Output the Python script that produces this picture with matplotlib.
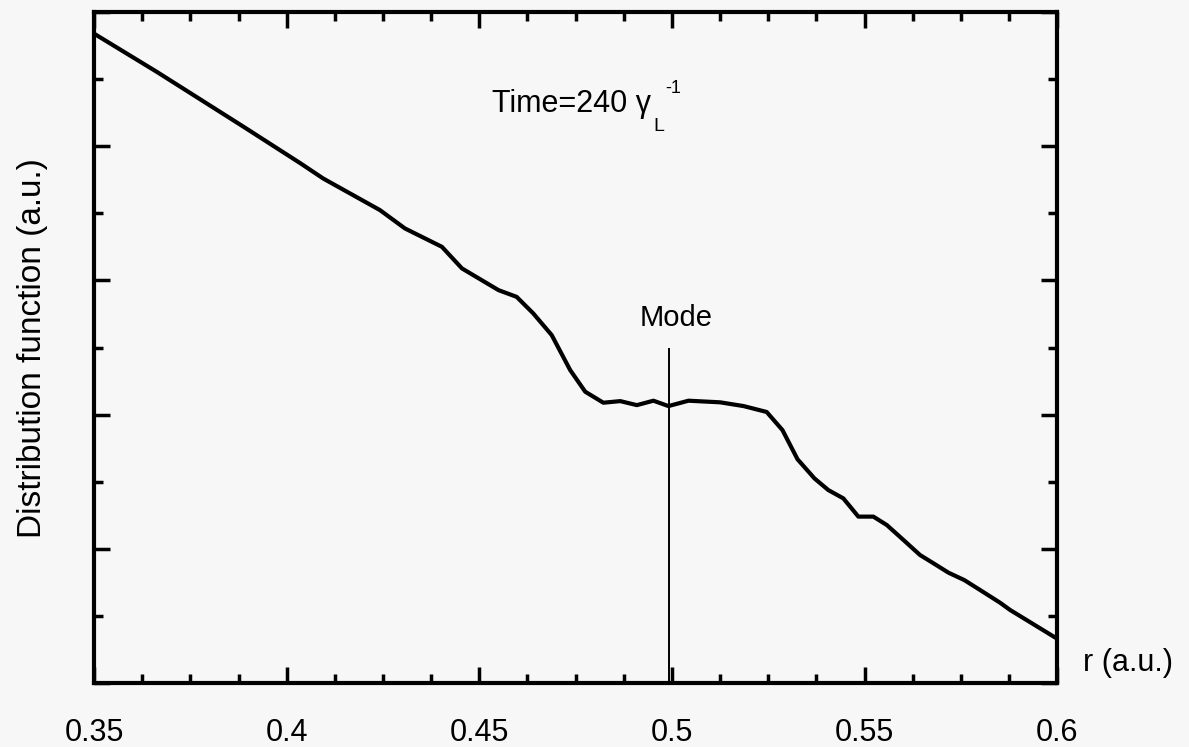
import numpy as np
import matplotlib
matplotlib.use("Agg")
import matplotlib.pyplot as plt
from matplotlib.ticker import MultipleLocator

plt.rcParams["font.family"] = ["Liberation Sans", "DejaVu Sans"]

# distribution function vs radius
r_vals = [0.350, 0.3663, 0.3888, 0.4035, 0.4095, 0.4242, 0.4307, 0.4403,
          0.4455, 0.4550, 0.4597, 0.4640, 0.4688, 0.4736, 0.4775, 0.4822,
          0.4866, 0.4909, 0.4952, 0.4991, 0.5043, 0.5125, 0.5186, 0.5246,
          0.5287, 0.5326, 0.5370, 0.5406, 0.5445, 0.5484, 0.5523, 0.5558,
          0.5601, 0.5644, 0.5679, 0.5718, 0.5759, 0.5800, 0.5852, 0.5878,
          0.6000]
f_vals = [4.84, 4.555, 4.146, 3.875, 3.760, 3.525, 3.388, 3.251,
          3.090, 2.928, 2.878, 2.755, 2.593, 2.332, 2.171, 2.089,
          2.101, 2.071, 2.104, 2.064, 2.104, 2.092, 2.064, 2.020,
          1.885, 1.668, 1.525, 1.438, 1.376, 1.240, 1.240, 1.177,
          1.066, 0.954, 0.892, 0.822, 0.767, 0.693, 0.598, 0.544,
          0.33]

mode_r = 0.4992
mode_top = 2.49
xtick_vals = [0.35, 0.4, 0.45, 0.5, 0.55, 0.6]
xtick_labels = ["0.35", "0.4", "0.45", "0.5", "0.55", "0.6"]

bg = "#f7f7f7"
fig = plt.figure(figsize=(11.89, 7.47), dpi=100, facecolor=bg)
ax = fig.add_axes([0.0791, 0.0857, 0.810, 0.898], facecolor=bg)

ax.plot(r_vals, f_vals, color="black", linewidth=3.0, solid_joinstyle="round")
ax.plot([mode_r, mode_r], [0, mode_top], color="black", linewidth=1.4)

ax.set_xlim(0.35, 0.6)
ax.set_ylim(0, 5)
ax.set_xticks(xtick_vals)
ax.set_xticklabels(xtick_labels, fontsize=22)
ax.xaxis.set_minor_locator(MultipleLocator(0.0125))
ax.yaxis.set_major_locator(MultipleLocator(1))
ax.yaxis.set_minor_locator(MultipleLocator(0.5))
ax.tick_params(which="both", direction="in", top=True, right=True,
               color="black", width=2.5)
ax.tick_params(which="major", length=11.5)
ax.tick_params(which="minor", length=6.5)
ax.tick_params(axis="x", which="major", pad=25)
ax.tick_params(axis="y", which="both", labelleft=False)
for sp in ax.spines.values():
    sp.set_linewidth(3.0)

ax.set_ylabel("Distribution function (a.u.)", fontsize=24, labelpad=33)

ax.text(1.027, 0.030, "r (a.u.)", transform=ax.transAxes, fontsize=22,
        ha="left", va="center")
ax.text(0.5011, 2.66, "Mode", fontsize=21, ha="center", va="baseline")

# Time = 240 gamma_L^-1, pieced together like the original lettering
fig.text(651 / 1189, 1 - 112 / 747, "Time=240 \u03b3", fontsize=22,
         ha="right", va="baseline")
fig.text(653 / 1189, 1 - 131 / 747, "L", fontsize=14, ha="left", va="baseline")
fig.text(665 / 1189, 1 - 93 / 747, "-1", fontsize=13, ha="left", va="baseline")

fig.savefig("out.png", dpi=100, facecolor=bg)
